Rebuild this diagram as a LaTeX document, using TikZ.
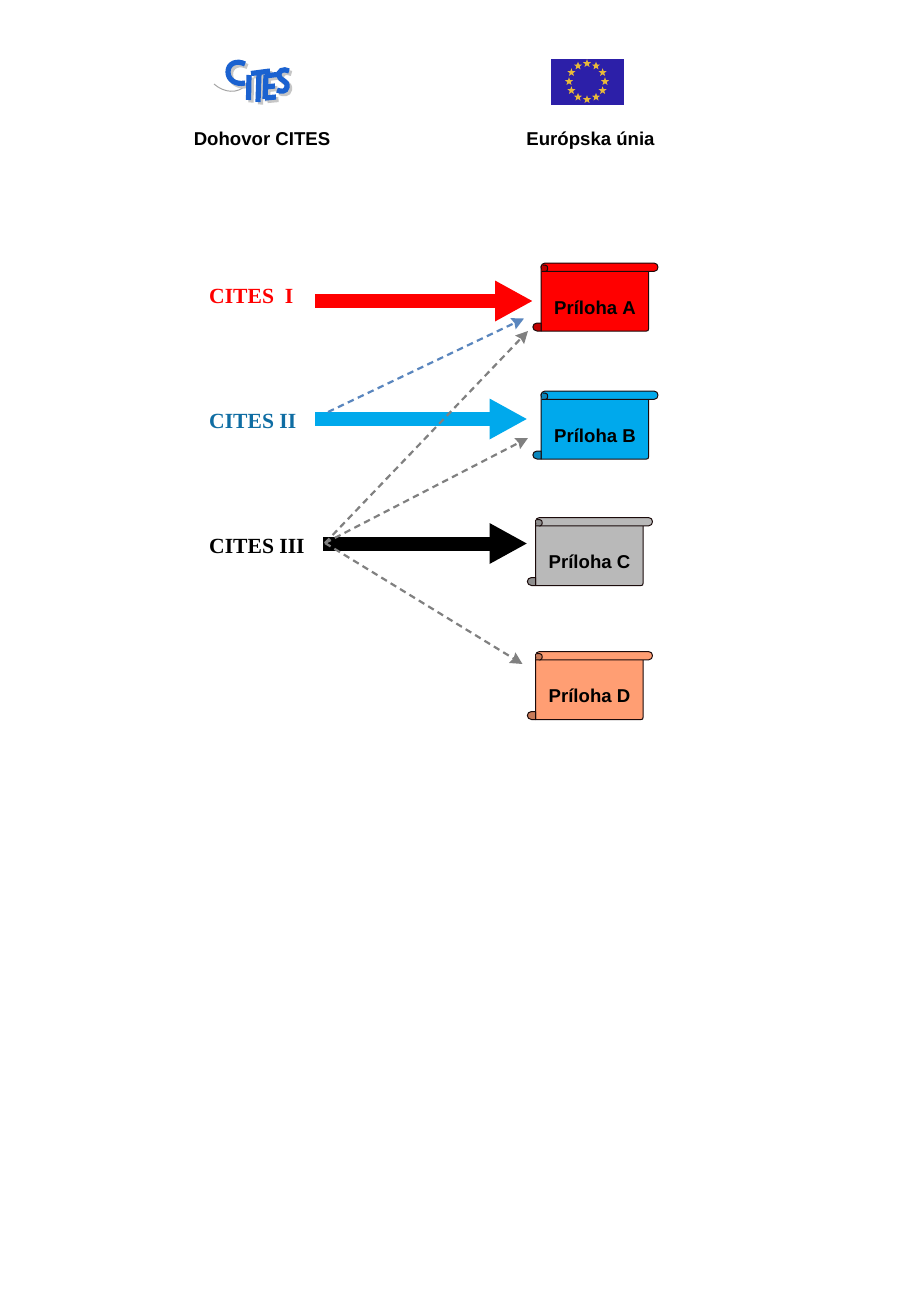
\documentclass[tikz,border=0pt]{standalone}
\usepackage{fontspec}
\setmainfont{Liberation Sans}
\newfontfamily\serifface{Liberation Serif}
\usetikzlibrary{arrows.meta,shapes.geometric,calc}
\definecolor{scrollRed}{HTML}{FF0000}
\definecolor{scrollRedDk}{HTML}{C00000}
\definecolor{scrollBlue}{HTML}{00A9EC}
\definecolor{scrollBlueDk}{HTML}{0A86BC}
\definecolor{scrollGray}{HTML}{B9B9B9}
\definecolor{scrollGrayDk}{HTML}{8E8E8E}
\definecolor{scrollOrange}{HTML}{FF9E73}
\definecolor{scrollOrangeDk}{HTML}{C87A58}
\definecolor{dashBlue}{HTML}{5A86BE}
\definecolor{dashGray}{HTML}{808080}
\definecolor{citesBlue}{HTML}{0F6DA3}
\definecolor{logoBlue}{HTML}{1B62D0}
\definecolor{flagBlue}{HTML}{2C1FA8}
\definecolor{starGold}{HTML}{E8B93A}
\definecolor{lineDark}{HTML}{1A0A0A}
\tikzset{
  x=1pt,y=-1pt,
  headlabel/.style={font=\fontsize{18.6}{20}\selectfont\bfseries,text=black,inner sep=0pt,anchor=base},
  citeslabel/.style={font=\serifface\fontsize{21.6}{23}\selectfont\bfseries,inner sep=0pt,anchor=base west},
  scrolllabel/.style={font=\fontsize{18.6}{20}\selectfont\bfseries,text=black,inner sep=0pt,anchor=base},
  blockarrow/.style={line width=14pt,-{Triangle[length=38pt,width=38pt]}},
  dasharrow/.style={line width=2.2pt,dash pattern=on 6.5pt off 4.5pt,-{Stealth[length=12pt,width=12pt,inset=1.5pt]}},
  scrollline/.style={draw=lineDark,line width=1pt,line join=round},
  logostroke/.style={line width=5.2pt,line cap=butt,line join=miter},
}
% #1 name, #2 x offset, #3 y offset, #4 fill, #5 dark fill, #6 label
\newcommand{\scrollshape}[6]{%
  \begin{scope}[shift={(#2,#3)}]
    \filldraw[scrollline,fill=#4] (541,266) -- (541,331) -- (646.5,331) .. controls (648,331) and (648.5,330.5) .. (648.5,329) -- (648.5,268) -- cycle;
    \filldraw[scrollline,fill=#4] (545,263) -- (654,263) .. controls (659.3,263) and (659.3,271.4) .. (654,271.4) -- (545,271.4) .. controls (539.7,271.4) and (539.7,263) .. (545,263) -- cycle;
    \filldraw[scrollline,fill=#5] (541.5,271.4) -- (545.5,271.4) .. controls (548.5,271.4) and (548.5,265.2) .. (545.5,265.2) -- (542.5,265.2);
    \filldraw[scrollline,fill=#5] (541,323) -- (537,323) .. controls (531.5,323) and (531.5,331) .. (537,331) -- (541,331) -- cycle;
    \node[scrolllabel] (#1) at (595,314) {#6};
  \end{scope}}
% logo letters as strokes
\newcommand{\logoletters}[1]{%
  \begin{scope}[#1,logostroke]
    \draw (245,64) .. controls (237,60) and (228,63) .. (228,72) .. controls (228,80) and (236,85) .. (245,83);
    \draw (249,75) -- (248.5,100);
    \draw (251,73.5) -- (270,71);
    \draw (259,73) -- (258,102);
    \draw (266,75) -- (265,99);
    \draw (265,76) -- (277,74.5);
    \draw (265,87) -- (275,86);
    \draw (265,98) -- (276,97);
    \draw (289,71) .. controls (283,68) and (278,71) .. (279,76) .. controls (280,81) and (288,80) .. (287,87) .. controls (286,92) and (281,92) .. (277,90);
  \end{scope}}
\begin{document}
\begin{tikzpicture}
\useasboundingbox (0,0) rectangle (918,1298);
\fill[white] (0,0) rectangle (918,1298);

% CITES logo (picture, drawn as shapes)
\draw[draw=gray!70,line width=1pt] (214,84) .. controls (224,93) and (238,94) .. (246,85);
\logoletters{shift={(2.5,2.5)},draw=gray!45}
\logoletters{draw=logoBlue}

% EU flag
\fill[flagBlue] (551,59) rectangle (624,105);
\foreach \a in {0,30,...,330}
  \node[star,star points=5,star point ratio=2.4,fill=starGold,inner sep=0pt,minimum size=8.5pt] at ($(587,81.5)+(\a:18)$) {};

\node[headlabel] (dohovor) at (262,145.5) {Dohovor CITES};
\node[headlabel] (eu) at (590.5,145.5) {Európska únia};

% source labels
\node[citeslabel,text=red] (c1) at (209,303) {CITES\ \ I};
\node[citeslabel,text=citesBlue] (c2) at (209,428.5) {CITES II};
\node[citeslabel,text=black] (c3) at (209,553.5) {CITES III};

% scrolls
\scrollshape{A}{0}{0}{scrollRed}{scrollRedDk}{Príloha A}
\scrollshape{B}{0}{128}{scrollBlue}{scrollBlueDk}{Príloha B}
\scrollshape{C}{-5.5}{254.5}{scrollGray}{scrollGrayDk}{Príloha C}
\scrollshape{D}{-5.5}{388.5}{scrollOrange}{scrollOrangeDk}{Príloha D}

% anchor coordinates
\coordinate (s1) at (315,301);
\coordinate (s2) at (315,419);
\coordinate (s3) at (323,543.5);
\coordinate (t1) at (533,301);
\coordinate (t2) at (527.5,419);
\coordinate (t3) at (527.5,543.5);
\coordinate (b0) at (328,412);
\coordinate (g0) at (325,543);
\coordinate (d1) at (524,318.5);
\coordinate (d2) at (528,331);
\coordinate (d3) at (528,438);
\coordinate (d4) at (522.5,664);

% block arrows
\draw[blockarrow,red] (s1) -- (t1);
\draw[blockarrow,scrollBlue] (s2) -- (t2);
\draw[blockarrow,black] (s3) -- (t3);

% dashed arrows
\draw[dasharrow,dashBlue] (b0) -- (d1);
\draw[dasharrow,dashGray] (g0) -- (d2);
\draw[dasharrow,dashGray] (g0) -- (d3);
\draw[dasharrow,dashGray] (g0) -- (d4);
\end{tikzpicture}
\end{document}
